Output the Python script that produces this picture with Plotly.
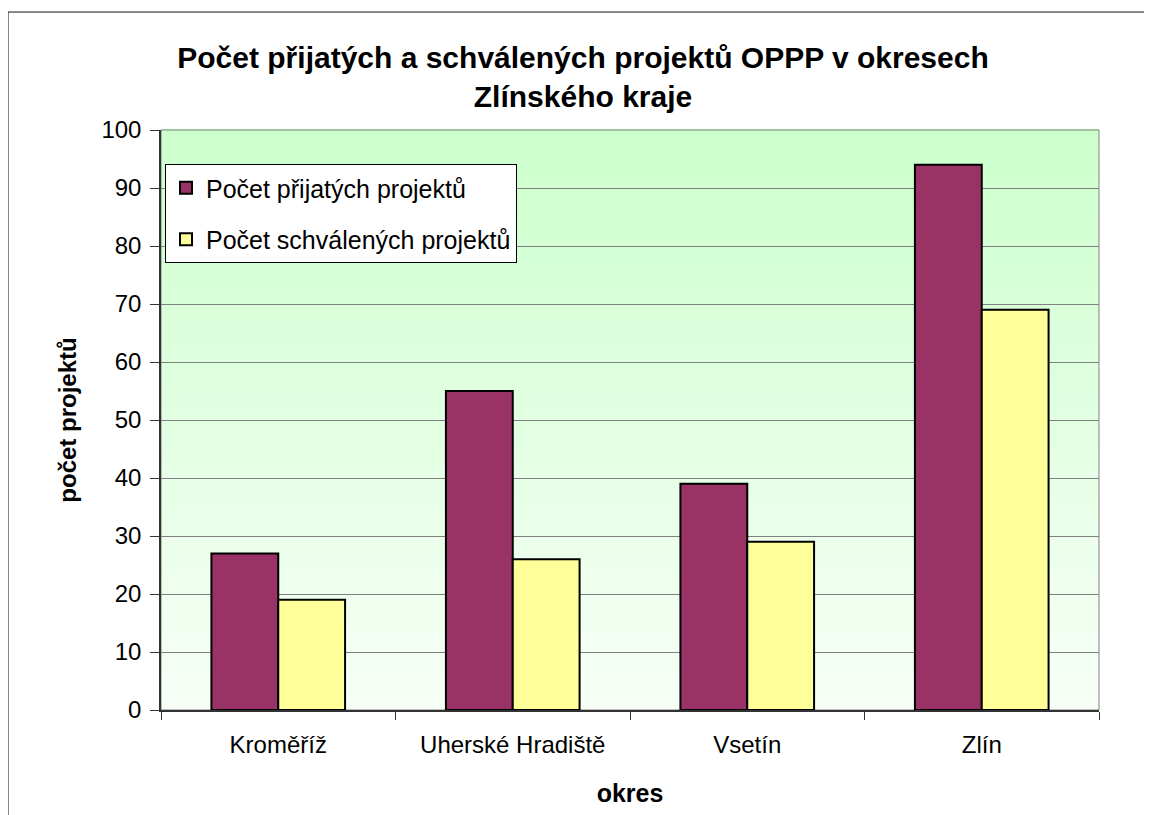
import plotly.graph_objects as go

okresy = ["Kroměříž", "Uherské Hradiště", "Vsetín", "Zlín"]
prijate = [27, 55, 39, 94]
schvalene = [19, 26, 29, 69]
y_ticks = list(range(0, 101, 10))

FONT = "Arial, Liberation Sans, sans-serif"

fig = go.Figure()
fig.add_trace(go.Bar(x=okresy, y=prijate, name="Počet přijatých projektů",
                     marker=dict(color="#993366", line=dict(color="black", width=2)),
                     legendgroup="a"))
fig.add_trace(go.Bar(x=okresy, y=schvalene, name="Počet schválených projektů",
                     marker=dict(color="#FFFF99", line=dict(color="black", width=2)),
                     legendgroup="b"))

# gradient background of the plot area (light green at top -> near white at bottom)
shapes = []
n = 60
for i in range(n):
    t = i / (n - 1)
    r = int(round(247 + (204 - 247) * t))
    shapes.append(dict(type="rect", xref="x domain", yref="y domain",
                       x0=0, x1=1, y0=i / n, y1=(i + 1) / n + 0.002,
                       fillcolor=f"rgb({r},255,{r})", line=dict(width=0),
                       layer="below"))
# plot area border
shapes.append(dict(type="rect", xref="x domain", yref="y domain", x0=0, x1=1, y0=0, y1=1,
                   line=dict(color="#808080", width=1), layer="below"))
# outer chart frame: only top and left edges are visible
shapes.append(dict(type="line", xref="paper", yref="paper",
                   x0=-0.1631, x1=1.3, y0=1.2034, y1=1.2034,
                   line=dict(color="#111111", width=1)))
shapes.append(dict(type="line", xref="paper", yref="paper",
                   x0=-0.1631, x1=-0.1631, y0=-0.3, y1=1.2034,
                   line=dict(color="#111111", width=1)))

fig.update_layout(
    width=1152, height=815,
    margin=dict(l=153, r=61, t=122, b=113, autoexpand=False),
    paper_bgcolor="white",
    plot_bgcolor="rgba(0,0,0,0)",
    font=dict(family=FONT, color="black", size=24),
    title=dict(text="<b>Počet přijatých a schválených projektů OPPP v okresech<br>Zlínského kraje</b>",
               x=575 / 1152, xref="container", xanchor="center",
               y=1 - 60 / 815, yref="container", yanchor="middle",
               font=dict(size=30, family=FONT)),
    barmode="group", bargap=0.43, bargroupgap=0,
    shapes=shapes,
    showlegend=True,
    legend=dict(x=(165 - 161) / 938, y=(710 - 164) / 580,
                xanchor="left", yanchor="top",
                bgcolor="white", bordercolor="black", borderwidth=1,
                font=dict(size=25), tracegroupgap=16, traceorder="grouped"),
)
fig.update_xaxes(
    showline=True, linecolor="#333333", linewidth=1.5,
    ticks="outside", tickson="boundaries", ticklen=8, tickcolor="#333333",
    showgrid=False, tickangle=0, automargin=False, ticklabelstandoff=12,
    title=dict(text="<b>okres</b>", font=dict(size=25), standoff=28),
    tickfont=dict(size=24),
)
fig.update_yaxes(
    range=[0, 100], tickvals=y_ticks,
    showline=True, linecolor="#333333", linewidth=1.5,
    ticks="outside", ticklen=9, tickcolor="#333333", ticklabelstandoff=4,
    showgrid=True, gridcolor="#808080", gridwidth=1,
    zeroline=False, automargin=False,
    title=dict(text="<b>počet projektů</b>", font=dict(size=24), standoff=18),
    tickfont=dict(size=24),
)

fig.write_html("out.html")
